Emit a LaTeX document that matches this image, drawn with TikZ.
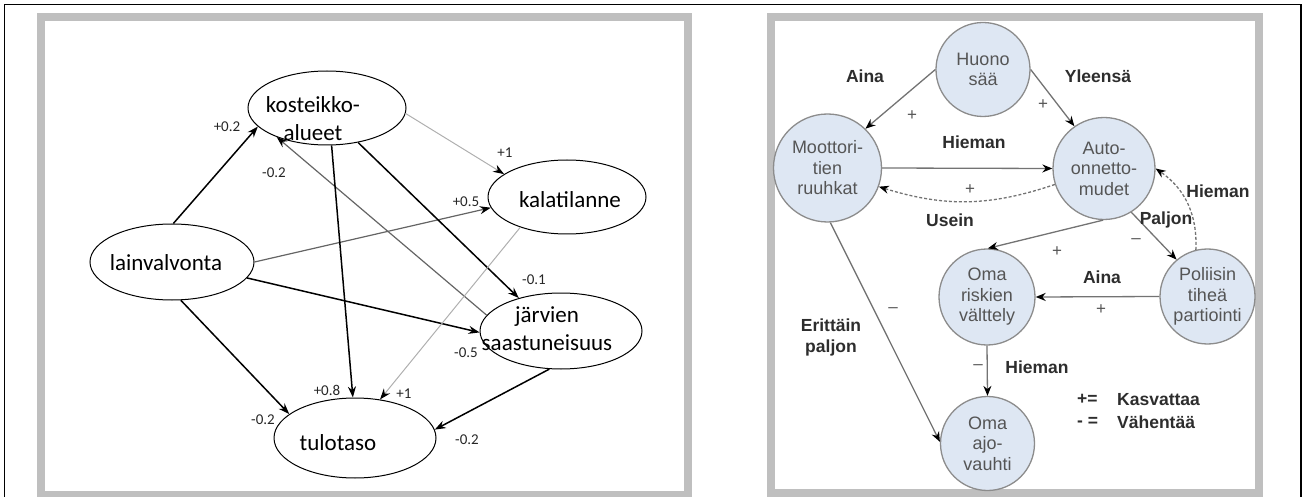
\documentclass[tikz,border=0pt]{standalone}
\usepackage{fontspec}
\setmainfont{Carlito}
\newfontfamily\arialfont{Liberation Sans}
\usetikzlibrary{arrows.meta, shapes.geometric}
\definecolor{framegray}{RGB}{191,191,191}
\definecolor{lightedge}{RGB}{175,175,175}
\definecolor{midedge}{RGB}{100,100,100}
\definecolor{redge}{RGB}{115,115,115}
\definecolor{cfill}{RGB}{222,231,243}
\definecolor{cdraw}{RGB}{140,140,140}
\definecolor{ctext}{RGB}{85,85,85}
\definecolor{ltext}{RGB}{45,45,45}
\tikzset{%
    frm/.style={line width=8pt, draw=framegray},
    ell/.style={ellipse, draw, line width=1pt, inner sep=0pt},
    etxt/.style={font=\fontsize{23}{28}\selectfont, align=center, inner sep=0pt},
    coef/.style={font=\fontsize{15}{17}\selectfont, text=black!85, inner sep=0pt},
    arr/.style={line width=1.5pt, -{Stealth[length=11pt,width=8pt]}},
    arrl/.style={line width=1pt, draw=lightedge, -{Stealth[length=11pt,width=8pt,color=black]}},
    arrm/.style={line width=1.2pt, draw=midedge, -{Stealth[length=11pt,width=8pt,color=black]}},
    circ/.style={circle, draw=cdraw, fill=cfill, line width=1.3pt, inner sep=1pt, text=ctext, align=center, font=\arialfont\fontsize{18}{20.5}\selectfont},
    rarr/.style={line width=1.3pt, draw=redge, -{Stealth[length=10pt,width=8pt,color=black]}},
    rdash/.style={rarr, dashed, dash pattern=on 3pt off 2pt},
    rlab/.style={font=\arialfont\bfseries\fontsize{17.5}{21}\selectfont, text=ltext, align=center, inner sep=0pt},
    sgn/.style={font=\arialfont\fontsize{17}{20}\selectfont, text=ctext, inner sep=0pt},
}

\begin{document}
\begin{tikzpicture}[x=1pt,y=-1pt]
    \useasboundingbox (0,0) rectangle (1304,497);
    % frames
    \draw [line width=1.5pt] (4.5,497) -- (4.5,4.5) -- (1301,4.5) -- (1301,497);
    \draw [frm] (41,16.7) rectangle (687.5,494.5);
    \draw [frm] (771,16.7) rectangle (1259,492.5);
    % left panel
    \node [ell, minimum width=164pt, minimum height=76pt] (lain) at (172,262) {};
    \node [ell, minimum width=158pt, minimum height=74pt] (kos) at (327,108) {};
    \node [ell, minimum width=158pt, minimum height=74pt] (kal) at (567,197) {};
    \node [ell, minimum width=162pt, minimum height=76pt] (jar) at (561,331) {};
    \node [ell, minimum width=162pt, minimum height=80pt] (tul) at (355,438) {};
    \node [etxt] (lain-t) at (166,263) {lainvalvonta};
    \node [etxt] (kos-t) at (313,119) {kosteikko-\\alueet};
    \node [etxt] (kal-t) at (570,200) {kalatilanne};
    \node [etxt] (jar-t) at (547,329) {järvien\\saastuneisuus};
    \node [etxt] (tul-t) at (338,443) {tulotaso};
    \draw [arr] (lain.88) -- (kos.195);
    \draw [arrl] (kos.356) -- (kal.160);
    \draw [arrm] (jar.168) -- (kos.210);
    \draw [arrm] (lain.0) -- (kal.188);
    \draw [arr] (lain.348) -- (jar.181);
    \draw [arr] (lain.283) -- (tul.160);
    \draw [arr] (kos.277) -- (tul.93);
    \draw [arr] (kos.312) -- (jar.142);
    \draw [arrl] (kal.213) -- (tul.57);
    \draw [arr] (jar.253) -- (tul.6);
    \node [coef] (c-lk) at (227,127) {+0.2};
    \node [coef] (c-jk) at (274,173) {-0.2};
    \node [coef] (c-kk) at (505,153) {+1};
    \node [coef] (c-lka) at (466,202) {+0.5};
    \node [coef] (c-kj) at (534,280) {-0.1};
    \node [coef] (c-lj) at (466,353) {-0.5};
    \node [coef] (c-kt) at (327,390) {+0.8};
    \node [coef] (c-kat) at (404,394) {+1};
    \node [coef] (c-lt) at (263,420) {-0.2};
    \node [coef] (c-jt) at (467,440) {-0.2};
    % right panel
    \node [circ, minimum size=94pt] (hs) at (983,69.5) {Huono\\sää};
    \node [circ, minimum size=108pt] (mt) at (827.5,168) {Moottori-\\tien\\ruuhkat};
    \node [circ, minimum size=102pt] (ao) at (1104,168.5) {Auto-\\onnetto-\\mudet};
    \node [circ, minimum size=96pt] (ri) at (987,297) {Oma\\riskien\\välttely};
    \node [circ, minimum size=95pt] (pt) at (1207.5,296.5) {Poliisin\\tiheä\\partiointi};
    \node [circ, minimum size=94pt] (aj) at (987.5,443.5) {Oma\\ajo-\\vauhti};
    \draw [rarr] (hs.180) -- (mt.46);
    \draw [rarr] (hs.0) -- (ao.125);
    \draw [rarr] (mt.east) -- (ao.west);
    \draw [rdash] (ao.198) to[bend left=18] (mt.340);
    \draw [rarr] (ao.269) -- (ri.89);
    \draw [rarr] (ao.302) -- (pt.130);
    \draw [rdash] (pt.104) to[bend right=29] (ao.0);
    \draw [rarr] (pt.west) -- (ri.east);
    \draw [rarr] (ri.south) -- (aj.north);
    \draw [rarr] (mt.273) -- (aj.178);
    \node [rlab] (l-aina1) at (865,76) {Aina};
    \node [rlab] (l-yl) at (1098,76) {Yleensä};
    \node [sgn] (s-hm) at (912,116) {+};
    \node [sgn] (s-ha) at (1043,105) {+};
    \node [rlab] (l-hie1) at (974,142) {Hieman};
    \node [sgn] (s-am) at (970,190) {+};
    \node [rlab] (l-use) at (950,220) {Usein};
    \node [rlab] (l-hie2) at (1218,191) {Hieman};
    \node [rlab] (l-pal) at (1166,220) {Paljon};
    \node [sgn] (s-ap) at (1136,241) {–};
    \node [sgn] (s-ar) at (1057,252) {+};
    \node [rlab] (l-aina2) at (1102,277) {Aina};
    \node [sgn] (s-pr) at (1101,310) {+};
    \node [sgn] (s-ma) at (893,310) {–};
    \node [rlab] (l-eri) at (831,337.5) {Erittäin\\paljon};
    \node [sgn] (s-ra) at (978,367) {–};
    \node [rlab] (l-hie3) at (1037,367) {Hieman};
    % legend
    \node [rlab, anchor=west] (lg-p) at (1077,399) {+=};
    \node [rlab, anchor=west] (lg-pt) at (1117,400) {Kasvattaa};
    \node [rlab, anchor=west] (lg-m) at (1077,422) {- =};
    \node [rlab, anchor=west] (lg-mt) at (1117,422) {Vähentää};
\end{tikzpicture}
\end{document}
